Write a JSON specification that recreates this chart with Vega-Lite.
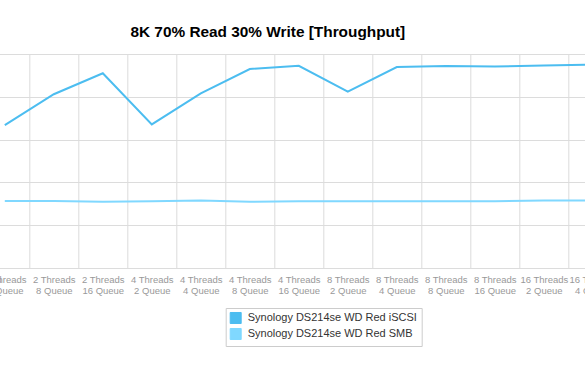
{
  "$schema": "https://vega.github.io/schema/vega-lite/v6.json",
  "width": 637,
  "height": 214,
  "autosize": {"type": "none"},
  "padding": {"left": -19.7, "top": 54, "right": 0, "bottom": 97},
  "background": "white",
  "title": {
    "text": "8K 70% Read 30% Write [Throughput]",
    "font": "Liberation Sans",
    "fontSize": 15.4,
    "fontWeight": "bold",
    "color": "#000",
    "anchor": "middle",
    "dx": -31,
    "baseline": "alphabetic",
    "offset": 2
  },
  "data": {
    "values": [
      {"cat": "2 Threads|4 Queue", "series": "Synology DS214se WD Red iSCSI", "v": 66.8},
      {"cat": "2 Threads|8 Queue", "series": "Synology DS214se WD Red iSCSI", "v": 81.2},
      {"cat": "2 Threads|16 Queue", "series": "Synology DS214se WD Red iSCSI", "v": 91.0},
      {"cat": "4 Threads|2 Queue", "series": "Synology DS214se WD Red iSCSI", "v": 67.1},
      {"cat": "4 Threads|4 Queue", "series": "Synology DS214se WD Red iSCSI", "v": 81.6},
      {"cat": "4 Threads|8 Queue", "series": "Synology DS214se WD Red iSCSI", "v": 93.0},
      {"cat": "4 Threads|16 Queue", "series": "Synology DS214se WD Red iSCSI", "v": 94.5},
      {"cat": "8 Threads|2 Queue", "series": "Synology DS214se WD Red iSCSI", "v": 82.4},
      {"cat": "8 Threads|4 Queue", "series": "Synology DS214se WD Red iSCSI", "v": 93.9},
      {"cat": "8 Threads|8 Queue", "series": "Synology DS214se WD Red iSCSI", "v": 94.4},
      {"cat": "8 Threads|16 Queue", "series": "Synology DS214se WD Red iSCSI", "v": 94.2},
      {"cat": "16 Threads|2 Queue", "series": "Synology DS214se WD Red iSCSI", "v": 94.6},
      {"cat": "16 Threads|4 Queue", "series": "Synology DS214se WD Red iSCSI", "v": 95.1},
      {"cat": "2 Threads|4 Queue", "series": "Synology DS214se WD Red SMB", "v": 31.3},
      {"cat": "2 Threads|8 Queue", "series": "Synology DS214se WD Red SMB", "v": 31.3},
      {"cat": "2 Threads|16 Queue", "series": "Synology DS214se WD Red SMB", "v": 30.9},
      {"cat": "4 Threads|2 Queue", "series": "Synology DS214se WD Red SMB", "v": 31.2},
      {"cat": "4 Threads|4 Queue", "series": "Synology DS214se WD Red SMB", "v": 31.6},
      {"cat": "4 Threads|8 Queue", "series": "Synology DS214se WD Red SMB", "v": 30.9},
      {"cat": "4 Threads|16 Queue", "series": "Synology DS214se WD Red SMB", "v": 31.2},
      {"cat": "8 Threads|2 Queue", "series": "Synology DS214se WD Red SMB", "v": 31.2},
      {"cat": "8 Threads|4 Queue", "series": "Synology DS214se WD Red SMB", "v": 31.2},
      {"cat": "8 Threads|8 Queue", "series": "Synology DS214se WD Red SMB", "v": 31.2},
      {"cat": "8 Threads|16 Queue", "series": "Synology DS214se WD Red SMB", "v": 31.2},
      {"cat": "16 Threads|2 Queue", "series": "Synology DS214se WD Red SMB", "v": 31.5},
      {"cat": "16 Threads|4 Queue", "series": "Synology DS214se WD Red SMB", "v": 31.5}
    ]
  },
  "mark": {"type": "line", "strokeWidth": 2, "interpolate": "linear"},
  "encoding": {
    "x": {
      "field": "cat",
      "type": "nominal",
      "sort": null,
      "bandPosition": 0.5,
      "scale": {"type": "band", "paddingInner": 0, "paddingOuter": 0},
      "axis": {
        "title": null,
        "labelAngle": 0,
        "labelExpr": "split(datum.value, '|')",
        "labelFont": "Liberation Sans",
        "labelFontSize": 9.5,
        "labelColor": "#999999",
        "labelLineHeight": 11,
        "labelPadding": 7,
        "labelBaseline": "top",
        "tickBand": "extent",
        "ticks": false,
        "grid": true,
        "gridColor": "#dcdcdc",
        "gridWidth": 1,
        "domainColor": "#dcdcdc",
        "labelOverlap": false,
        "labelBound": false,
        "labelFlush": false
      }
    },
    "y": {
      "field": "v",
      "type": "quantitative",
      "scale": {"domain": [0, 100], "nice": false, "zero": true},
      "axis": {
        "title": null,
        "labels": false,
        "ticks": false,
        "domain": false,
        "grid": true,
        "gridColor": "#dcdcdc",
        "values": [0, 20, 40, 60, 80, 100]
      }
    },
    "color": {
      "field": "series",
      "type": "nominal",
      "scale": {
        "domain": ["Synology DS214se WD Red iSCSI", "Synology DS214se WD Red SMB"],
        "range": ["#4cbdf0", "#80d8ff"]
      },
      "legend": {
        "title": null,
        "orient": "none",
        "legendX": 245.4,
        "legendY": 254,
        "direction": "vertical",
        "strokeColor": "#cccccc",
        "padding": 4,
        "rowPadding": 0,
        "symbolType": "square",
        "symbolSize": 121,
        "symbolStrokeWidth": 1,
        "symbolStrokeColor": "#bbbbbb",
        "symbolOffset": 0,
        "labelFont": "Liberation Sans",
        "labelFontSize": 11,
        "labelColor": "#333333",
        "labelOffset": 6,
        "labelLimit": 300,
        "encode": {
          "symbols": {
            "update": {
              "fill": {"scale": "color", "field": "value"},
              "fillOpacity": {"value": 1},
              "stroke": {"value": "#bbbbbb"},
              "strokeWidth": {"value": 1}
            }
          }
        }
      }
    }
  },
  "config": {"view": {"stroke": null}}
}
